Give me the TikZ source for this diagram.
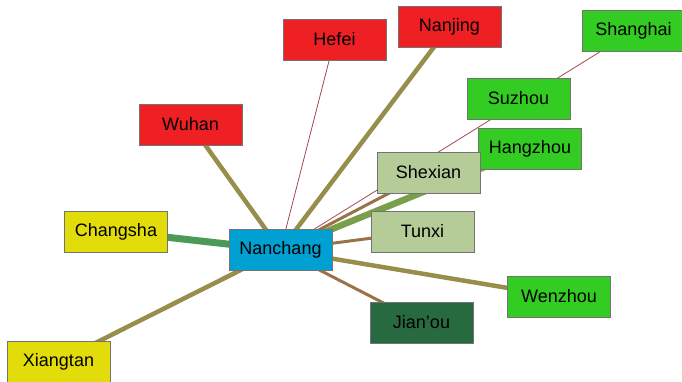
\documentclass[tikz,border=0pt]{standalone}
\usepackage{fontspec}
\setmainfont{Liberation Sans}
\definecolor{boxred}{HTML}{EE2024}
\definecolor{boxblue}{HTML}{00A0D2}
\definecolor{boxgreen}{HTML}{33CC22}
\definecolor{boxlight}{HTML}{B5CB98}
\definecolor{boxyellow}{HTML}{E1DC0A}
\definecolor{boxdark}{HTML}{286A40}
\definecolor{eolive}{HTML}{978E4C}
\definecolor{ebrown}{HTML}{9A7248}
\definecolor{egreen}{HTML}{7A9F4A}
\definecolor{ecgreen}{HTML}{4C9A58}
\definecolor{ered}{HTML}{A04A50}
\begin{document}
\begin{tikzpicture}[x=1pt,y=-1pt,
  city/.style={draw=black!55, line width=0.6pt, minimum width=103pt, minimum height=41pt,
    inner sep=0pt, font=\fontsize{18}{20}\selectfont},
  olive/.style={draw=eolive, line width=4.5pt},
  brown/.style={draw=ebrown, line width=3pt},
  thinred/.style={draw=ered, line width=0.8pt},
  greenwide/.style={draw=egreen, line width=6.5pt},
  cgreenwide/.style={draw=ecgreen, line width=7pt}]
\useasboundingbox (0,0) rectangle (682,381);
\coordinate (nc) at (280.5,250);
% node positions
\coordinate (phf) at (334.5,39.5);
\coordinate (pnj) at (449.5,26.5);
\coordinate (psh) at (633.5,31);
\coordinate (psz) at (518.5,98.5);
\coordinate (phz) at (530,148.5);
\coordinate (pwh) at (190.5,124.5);
\coordinate (psx) at (428.5,172.5);
\coordinate (ptx) at (422.5,231.5);
\coordinate (pcs) at (116,231.5);
\coordinate (pxt) at (58.5,361.5);
\coordinate (pjo) at (421.5,322.5);
\coordinate (pwz) at (559,296.5);
% edges
\draw[thinred] (nc) -- (phf);
\draw[olive] (nc) -- (pnj);
\draw[thinred] (nc) -- (psh);
\draw[brown] (nc) -- (psx);
\draw[greenwide] (nc) -- (phz);
\draw[brown] (nc) -- (ptx);
\draw[olive] (nc) -- (pwz);
\draw[brown] (nc) -- (pjo);
\draw[olive] (nc) -- (pxt);
\draw[cgreenwide] (nc) -- (pcs);
\draw[olive] (nc) -- (pwh);
% nodes
\node[city, fill=boxred] (hefei) at (phf) {Hefei};
\node[city, fill=boxred] (nanjing) at (pnj) {Nanjing};
\node[city, fill=boxgreen] (shanghai) at (psh) {Shanghai};
\node[city, fill=boxgreen] (suzhou) at (psz) {Suzhou};
\node[city, fill=boxgreen] (hangzhou) at (phz) {Hangzhou};
\node[city, fill=boxred] (wuhan) at (pwh) {Wuhan};
\node[city, fill=boxlight] (shexian) at (psx) {Shexian};
\node[city, fill=boxlight] (tunxi) at (ptx) {Tunxi};
\node[city, fill=boxyellow] (changsha) at (pcs) {Changsha};
\node[city, fill=boxyellow] (xiangtan) at (pxt) {Xiangtan};
\node[city, fill=boxdark] (jianou) at (pjo) {Jian’ou};
\node[city, fill=boxgreen] (wenzhou) at (pwz) {Wenzhou};
\node[city, fill=boxblue] (nanchang) at (nc) {Nanchang};
\end{tikzpicture}
\end{document}
